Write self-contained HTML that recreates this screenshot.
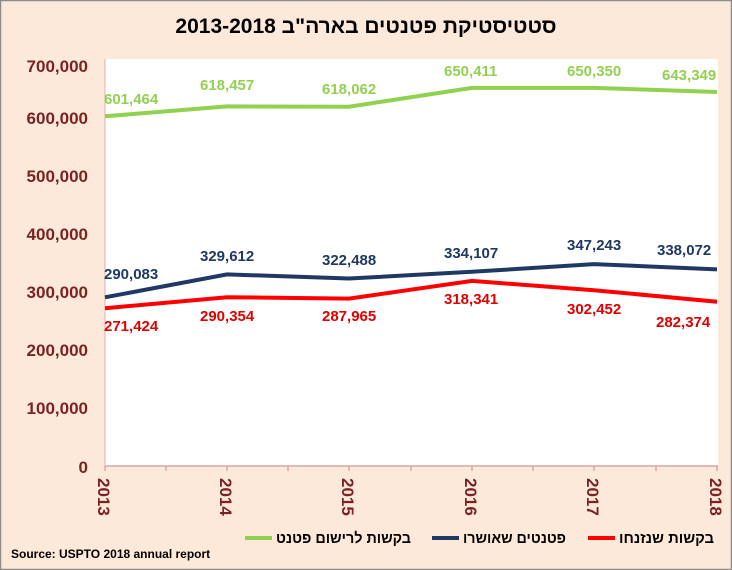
<!DOCTYPE html>
<html><head><meta charset="utf-8"><style>
body{margin:0;width:732px;height:570px;overflow:hidden}
svg{display:block}
text{font-family:"Liberation Sans","DejaVu Sans",sans-serif}
</style></head><body>
<svg width="732" height="570" xmlns="http://www.w3.org/2000/svg">
<rect x="0.5" y="0.5" width="731" height="569" fill="#fde9d9" stroke="#8c8c8c" stroke-width="1.5"/>
<text x="366" y="33" text-anchor="middle" font-size="21" font-weight="bold" fill="#000" direction="rtl">סטטיסטיקת פטנטים בארה"ב 2013-2018</text>
<rect x="105" y="59" width="613" height="407" fill="#fff"/>
<line x1="105" y1="59" x2="105" y2="466" stroke="#e0b0b0" stroke-width="1"/>
<line x1="105" y1="466" x2="718" y2="466" stroke="#d9a5a5" stroke-width="1.5"/>
<g stroke="#d9a5a5" stroke-width="1.5">
<line x1="105" y1="466" x2="105" y2="471"/><line x1="166" y1="466" x2="166" y2="471"/>
<line x1="227" y1="466" x2="227" y2="471"/><line x1="288" y1="466" x2="288" y2="471"/>
<line x1="349" y1="466" x2="349" y2="471"/><line x1="411" y1="466" x2="411" y2="471"/>
<line x1="472" y1="466" x2="472" y2="471"/><line x1="533" y1="466" x2="533" y2="471"/>
<line x1="594" y1="466" x2="594" y2="471"/><line x1="656" y1="466" x2="656" y2="471"/>
<line x1="717" y1="466" x2="717" y2="471"/>
</g>
<g font-size="17" font-weight="bold" fill="#7b2323" text-anchor="end">
<text x="88" y="72">700,000</text><text x="88" y="124">600,000</text>
<text x="88" y="182">500,000</text><text x="88" y="240">400,000</text>
<text x="88" y="298">300,000</text><text x="88" y="356">200,000</text>
<text x="88" y="414">100,000</text><text x="88" y="473">0</text>
</g>
<g font-size="17" font-weight="bold" fill="#7b2323">
<text transform="translate(98,478) rotate(90)">2013</text>
<text transform="translate(220,478) rotate(90)">2014</text>
<text transform="translate(342,478) rotate(90)">2015</text>
<text transform="translate(465,478) rotate(90)">2016</text>
<text transform="translate(587,478) rotate(90)">2017</text>
<text transform="translate(710,478) rotate(90)">2018</text>
</g>
<polyline fill="none" stroke="#92d050" stroke-width="4" points="105,116.3 227,106.4 349,106.7 472,87.9 594,87.9 717,92"/>
<polyline fill="none" stroke="#1f3864" stroke-width="4" points="105,297.3 227,274.4 349,278.5 472,271.8 594,264.1 717,269.4"/>
<polyline fill="none" stroke="#ff0000" stroke-width="4" points="105,308.2 227,297.2 349,298.6 472,280.9 594,290.2 717,301.8"/>
<g font-size="15" font-weight="bold" fill="#92d050">
<text x="104" y="104">601,464</text><text x="200" y="90">618,457</text>
<text x="322" y="94">618,062</text><text x="444" y="76">650,411</text>
<text x="567" y="76">650,350</text><text x="662" y="80">643,349</text>
</g>
<g font-size="15" font-weight="bold" fill="#1f3864">
<text x="104" y="279">290,083</text><text x="200" y="261">329,612</text>
<text x="322" y="265">322,488</text><text x="444" y="258">334,107</text>
<text x="567" y="250">347,243</text><text x="657" y="255">338,072</text>
</g>
<g font-size="15" font-weight="bold" fill="#e00000">
<text x="104" y="331">271,424</text><text x="200" y="321">290,354</text>
<text x="322" y="321">287,965</text><text x="444" y="304">318,341</text>
<text x="567" y="314">302,452</text><text x="656" y="327">282,374</text>
</g>
<g font-size="15" font-weight="bold" fill="#000">
<text x="276" y="543" textLength="135" lengthAdjust="spacingAndGlyphs" direction="rtl" text-anchor="end">בקשות לרישום פטנט</text>
<text x="463" y="543" textLength="103" lengthAdjust="spacingAndGlyphs" direction="rtl" text-anchor="end">פטנטים שאושרו</text>
<text x="619" y="543" textLength="95" lengthAdjust="spacingAndGlyphs" direction="rtl" text-anchor="end">בקשות שנזנחו</text>
</g>
<line x1="245" y1="538" x2="272" y2="538" stroke="#92d050" stroke-width="4"/>
<line x1="432" y1="538" x2="459" y2="538" stroke="#1f3864" stroke-width="4"/>
<line x1="588" y1="538" x2="615" y2="538" stroke="#ff0000" stroke-width="4"/>
<text x="11" y="558" font-size="12" font-weight="bold" fill="#000">Source: USPTO 2018 annual report</text>
</svg>
</body></html>
